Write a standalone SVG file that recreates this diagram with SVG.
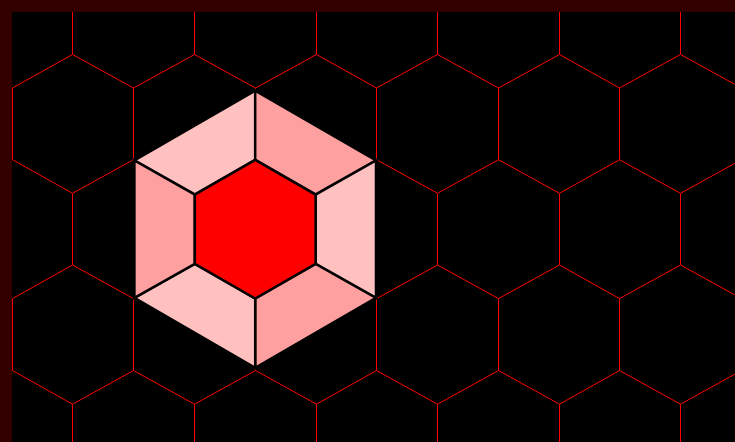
<svg xmlns="http://www.w3.org/2000/svg" width="735" height="442" viewBox="0 0 735 442">
<style>
.grid{fill:none;stroke:#ff0000;stroke-width:1}
.a{fill:#ffc0c0}
.b{fill:#ffa0a0}
.c{fill:#ff0000}
.edge{stroke:#000;stroke-width:2.5;stroke-linejoin:miter}
</style>
<rect width="735" height="442" fill="#000"/>
<g id="grid" class="grid">
<path d="M72.5 0V54.5M194.5 0V54.5M316.5 0V54.5M437.5 0V54.5M559.5 0V54.5M680.5 0V54.5"/>
<path d="M12.5 88L72.5 54.5L133.5 88L194.5 54.5L255.5 88L316.5 54.5L376.5 88L437.5 54.5L498.5 88L559.5 54.5L619.5 88L680.5 54.5L741.5 88"/>
<path d="M12.5 88V159.7M133.5 88V159.7M255.5 88V159.7M376.5 88V159.7M498.5 88V159.7M619.5 88V159.7"/>
<path d="M12.5 159.7L72.5 193.3L133.5 159.7L194.5 193.3L255.5 159.7L316.5 193.3L376.5 159.7L437.5 193.3L498.5 159.7L559.5 193.3L619.5 159.7L680.5 193.3L741.5 159.7"/>
<path d="M72.5 193.3V265M194.5 193.3V265M316.5 193.3V265M437.5 193.3V265M559.5 193.3V265M680.5 193.3V265"/>
<path d="M12.5 298.6L72.5 265L133.5 298.6L194.5 265L255.5 298.6L316.5 265L376.5 298.6L437.5 265L498.5 298.6L559.5 265L619.5 298.6L680.5 265L741.5 298.6"/>
<path d="M12.5 298.6V370.5M133.5 298.6V370.5M255.5 298.6V370.5M376.5 298.6V370.5M498.5 298.6V370.5M619.5 298.6V370.5"/>
<path d="M12.5 370.5L72.5 404.2L133.5 370.5L194.5 404.2L255.5 370.5L316.5 404.2L376.5 370.5L437.5 404.2L498.5 370.5L559.5 404.2L619.5 370.5L680.5 404.2L741.5 370.5"/>
<path d="M72.5 404.2V442M194.5 404.2V442M316.5 404.2V442M437.5 404.2V442M559.5 404.2V442M680.5 404.2V442"/>
</g>
<g id="highlight" class="edge">
<path id="top-left" class="a" d="M134.4 160.5L255.2 90.6L255.2 159.9L194.8 194.55Z"/>
<path id="top-right" class="b" d="M255.2 90.6L376 160.5L315.6 194.55L255.2 159.9Z"/>
<path id="right" class="a" d="M376 160.5L376 297.9L315.6 263.85L315.6 194.55Z"/>
<path id="bottom-right" class="b" d="M376 297.9L255.2 367.8L255.2 298.5L315.6 263.85Z"/>
<path id="bottom-left" class="a" d="M255.2 367.8L134.4 297.9L194.8 263.85L255.2 298.5Z"/>
<path id="left" class="b" d="M134.4 297.9L134.4 160.5L194.8 194.55L194.8 263.85Z"/>
<path id="center" class="c" d="M255.2 159.9L315.6 194.55L315.6 263.85L255.2 298.5L194.8 263.85L194.8 194.55Z"/>
</g>
<path id="border" fill="#330000" d="M0 0H735V12H12V442H0Z"/>
</svg>
